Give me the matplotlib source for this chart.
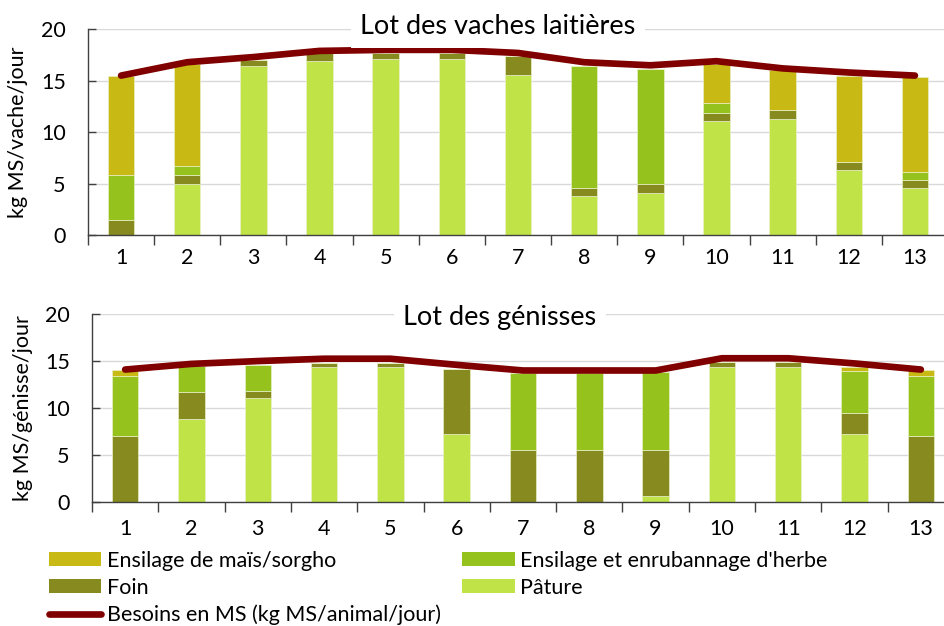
import matplotlib
matplotlib.use("Agg")
import matplotlib.pyplot as plt
from matplotlib.lines import Line2D
from matplotlib.patches import Patch
import numpy as np

plt.rcParams['font.family'] = ['Lato', 'DejaVu Sans']

categories = [str(i) for i in range(1, 14)]

# Lot des vaches laitières
pature_v = [0, 5.0, 16.4, 16.9, 17.1, 17.1, 15.6, 3.8, 4.1, 11.1, 11.3, 6.3, 4.6]
foin_v = [1.5, 0.85, 0.6, 0.75, 0.6, 0.6, 1.8, 0.8, 0.85, 0.8, 0.85, 0.75, 0.75]
herbe_v = [4.35, 0.85, 0, 0, 0, 0, 0, 11.85, 11.2, 0.9, 0, 0, 0.8]
mais_v = [9.6, 9.9, 0, 0, 0, 0, 0, 0, 0, 3.8, 3.85, 8.4, 9.25]
besoins_v = [15.5, 16.8, 17.3, 17.9, 18.0, 18.0, 17.7, 16.8, 16.5, 16.9, 16.2, 15.8, 15.5]

# Lot des génisses
pature_g = [0, 8.8, 11.1, 14.4, 14.4, 7.25, 0, 0, 0.7, 14.4, 14.4, 7.3, 0]
foin_g = [7.0, 2.9, 0.7, 0.4, 0.4, 6.95, 5.55, 5.55, 4.85, 0.5, 0.5, 2.2, 7.0]
herbe_g = [6.4, 2.75, 2.8, 0, 0, 0, 8.15, 8.15, 8.3, 0, 0, 4.45, 6.4]
mais_g = [0.7, 0, 0, 0, 0, 0, 0, 0, 0, 0, 0, 0.45, 0.7]
besoins_g = [14.1, 14.7, 15.0, 15.25, 15.25, 14.6, 14.0, 14.0, 14.0, 15.3, 15.3, 14.75, 14.1]

labels = ["Ensilage de maïs/sorgho", "Ensilage et enrubannage d'herbe", "Foin", "Pâture",
          "Besoins en MS (kg MS/animal/jour)"]
c_mais = "#C8B914"
c_herbe = "#96C21E"
c_foin = "#878A1E"
c_pature = "#C0E448"
c_line = "#800000"

FS = 15.5

W, H = 944, 626
fig = plt.figure(figsize=(W / 100, H / 100), dpi=100)

def px_axes(left, right, top, bottom):
    return [left / W, 1 - bottom / H, (right - left) / W, (bottom - top) / H]

ax1 = fig.add_axes(px_axes(88, 948, 29.3, 235))
ax2 = fig.add_axes(px_axes(92, 954, 314, 502.3))

def draw(ax, pature, foin, herbe, mais, besoins, ylabel, xpad):
    x = np.arange(1, 14)
    bw = 0.40
    b = np.zeros(13)
    for vals, col in [(pature, c_pature), (foin, c_foin), (herbe, c_herbe), (mais, c_mais)]:
        v = np.array(vals, dtype=float)
        ax.bar(x, v, bw, bottom=b, color=col, edgecolor="#E8F0C8", linewidth=0.5, zorder=2)
        b = b + v
    ax.plot(x, besoins, color=c_line, lw=4.8, solid_capstyle="round",
            solid_joinstyle="round", zorder=3)
    ax.set_xlim(0.5, 13.5)
    ax.set_ylim(0, 20)
    ax.set_yticks([0, 5, 10, 15, 20])
    ax.yaxis.grid(True, color="#D9D9D9", lw=1.0, zorder=0)
    ax.set_axisbelow(True)
    ax.set_xticks(x)
    ax.set_xticklabels(categories)
    ax.set_xticks(np.arange(0.5, 14, 1), minor=True)
    ax.tick_params(axis="x", which="major", length=0, pad=xpad, labelsize=FS)
    ax.tick_params(axis="x", which="minor", length=7, width=1, color="#404040", direction="out")
    ax.tick_params(axis="y", length=6, width=1, color="#404040", direction="in", pad=16, labelsize=FS)
    for s in ["top", "right"]:
        ax.spines[s].set_visible(False)
    for s in ["left", "bottom"]:
        ax.spines[s].set_color("#404040")
        ax.spines[s].set_linewidth(1)
    ax.set_ylabel(ylabel, fontsize=FS)

draw(ax1, pature_v, foin_v, herbe_v, mais_v, besoins_v, "kg MS/vache/jour", 9)
draw(ax2, pature_g, foin_g, herbe_g, mais_g, besoins_g, "kg MS/génisse/jour", 12)
ax1.yaxis.set_label_coords(-60 / 860, 0.5)
ax2.yaxis.set_label_coords(-59 / 862, 0.5)

fig.text(498 / W, 1 - 26 / H, "Lot des vaches laitières", fontsize=19.5, ha="center", va="center",
         bbox=dict(facecolor="white", edgecolor="none", boxstyle="square,pad=0.35"), zorder=5)
fig.text(500 / W, 1 - 317 / H, "Lot des génisses", fontsize=19.5, ha="center", va="center",
         bbox=dict(facecolor="white", edgecolor="none", boxstyle="square,pad=0.35"), zorder=5)

handles = [Patch(facecolor=c_mais, edgecolor="none"),
           Patch(facecolor=c_foin, edgecolor="none"),
           Line2D([0], [0], color=c_line, lw=4.8, solid_capstyle="round"),
           Patch(facecolor=c_herbe, edgecolor="none"),
           Patch(facecolor=c_pature, edgecolor="none")]
hl = [labels[0], labels[2], labels[4], labels[1], labels[3]]
fig.legend(handles, hl, loc="upper left", bbox_to_anchor=(40 / W, 1 - 542 / H), ncol=2,
           frameon=False, fontsize=FS, handlelength=2.45, handleheight=0.6, handletextpad=0.25,
           columnspacing=1.0, labelspacing=0.33, borderaxespad=0)

fig.savefig("out.png", dpi=100)
